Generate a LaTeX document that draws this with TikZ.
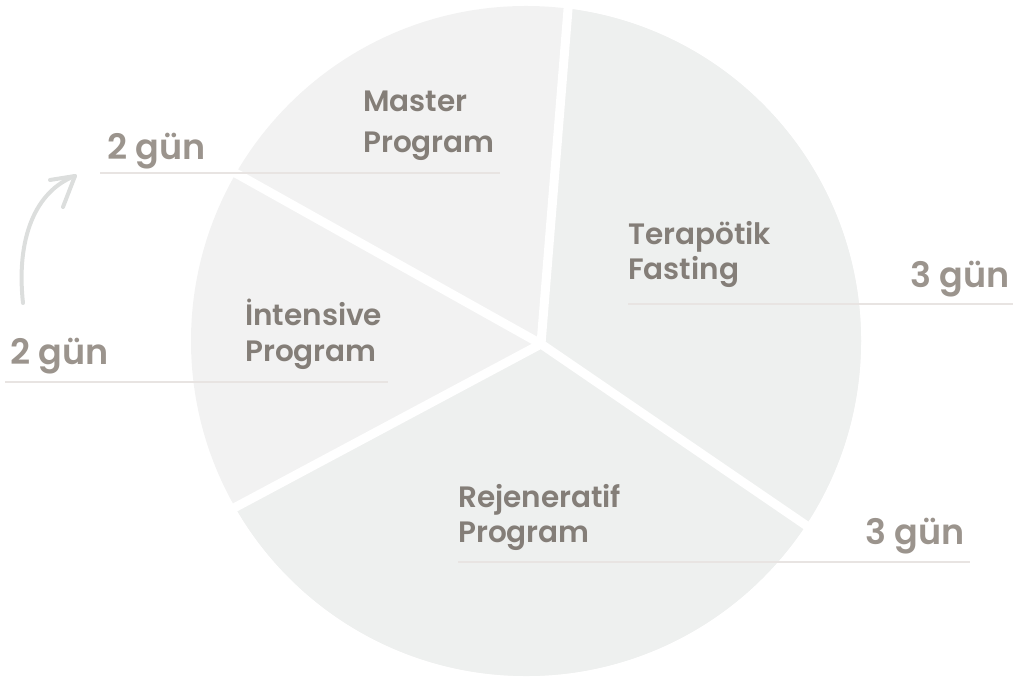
\documentclass[tikz,border=0pt]{standalone}
\usepackage{fontspec}
\newfontfamily\lblfont{Poppins SemiBold}
\usetikzlibrary{calc}
\definecolor{secA}{HTML}{F2F2F2}
\definecolor{secB}{HTML}{EEF0EF}
\definecolor{lblc}{HTML}{847E78}
\definecolor{gunc}{HTML}{9B948D}
\definecolor{rulec}{HTML}{E8E4E2}
\definecolor{arrc}{HTML}{DCDEDD}
\begin{document}
\begin{tikzpicture}[x=1pt,y=1pt,
  lbl/.style={anchor=base west,inner sep=0pt,text=lblc,font=\lblfont\fontsize{29.5}{29.5}\selectfont},
  gun/.style={anchor=base west,inner sep=0pt,text=gunc,font=\lblfont\fontsize{35}{35}\selectfont},
  rule/.style={draw=rulec,line width=1.5pt},
  gap/.style={draw=white,line width=9pt},
  arr/.style={draw=arrc,line width=4pt,line cap=round,line join=round}]
\useasboundingbox (0,0) rectangle (1013,679);
\coordinate (C) at (526,338);
\coordinate (J) at (541,335);
% pie
\fill[secA] (C) circle[radius=335pt];
\fill[secB] (J) -- ($(C)+(82.9:335)$) arc[start angle=82.9,end angle=-150.3,radius=335pt] -- cycle;
% gaps
\coordinate (g1) at ($(C)+(82.9:350)$);
\coordinate (g2) at ($(C)+(150:350)$);
\coordinate (g3) at ($(C)+(209.7:350)$);
\coordinate (g4) at ($(C)+(-33.4:350)$);
\draw[gap] (J) -- (g1);
\draw[gap] (J) -- (g2);
\draw[gap] (J) -- (g3);
\draw[gap] (J) -- (g4);
% rules
\coordinate (r1a) at (100,506); \coordinate (r1b) at (500,506);
\coordinate (r2a) at (628,375); \coordinate (r2b) at (1013,375);
\coordinate (r3a) at (5,297);   \coordinate (r3b) at (388,297);
\coordinate (r4a) at (458,117); \coordinate (r4b) at (970,117);
\draw[rule] (r1a) -- (r1b);
\draw[rule] (r2a) -- (r2b);
\draw[rule] (r3a) -- (r3b);
\draw[rule] (r4a) -- (r4b);
% labels
\node[lbl] (m1) at (363,567) {Master};
\node[lbl] (m2) at (363,526) {Program};
\node[gun] (d1) at (107,519) {2 gün};
\node[lbl] (t1) at (628,434) {Terapötik};
\node[lbl] (t2) at (628,399) {Fasting};
\node[gun] (d2) at (910,391) {3 gün};
\node[lbl] (i1) at (245,353) {İntensive};
\node[lbl] (i2) at (245,317) {Program};
\node[gun] (d3) at (10,314) {2 gün};
\node[lbl] (rj1) at (458,171) {Rejeneratif};
\node[lbl] (rj2) at (458,136) {Program};
\node[gun] (d4) at (865,134) {3 gün};
% arrow
\coordinate (a0) at (23,376);
\coordinate (a1) at (75,503);
\coordinate (h1) at (50,499);
\coordinate (h2) at (63,472);
\draw[arr] (a0) .. controls (16,440) and (35,488) .. (a1);
\draw[arr] (h1) -- (a1) -- (h2);
\end{tikzpicture}
\end{document}
